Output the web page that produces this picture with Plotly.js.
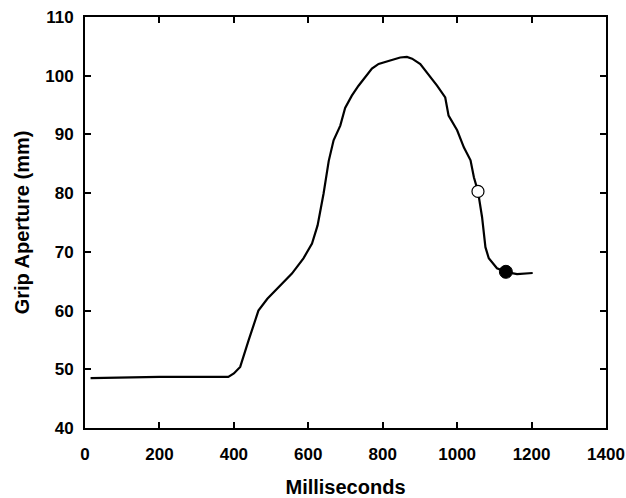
<!DOCTYPE html>
<html>
<head>
<meta charset="utf-8">
<script src="https://cdn.plot.ly/plotly-3.0.1.min.js"></script>
<style>body{margin:0;padding:0;background:#fff}#plot{width:626px;height:498px}</style>
</head>
<body>
<div id="plot"></div>
<script>
const timeMs = [15, 90, 100, 200, 300, 385, 400, 417, 440, 466, 490, 515, 556, 587, 610, 625, 641, 655, 668, 686, 699, 717, 735, 771, 789, 820, 847, 865, 879, 901, 919, 946, 968, 977, 1000, 1018, 1036, 1045, 1056, 1067, 1076, 1085, 1107, 1131, 1161, 1203];
const aperture = [48.5, 48.6, 48.5, 48.7, 48.7, 48.7, 49.3, 50.4, 55.0, 60.0, 62.0, 63.6, 66.3, 68.9, 71.4, 74.5, 79.9, 85.5, 89.0, 91.5, 94.5, 96.6, 98.3, 101.2, 102.0, 102.6, 103.1, 103.2, 102.9, 102.0, 100.6, 98.3, 96.3, 93.2, 90.7, 87.8, 85.6, 82.7, 80.3, 75.9, 70.8, 68.9, 67.2, 66.6, 66.2, 66.4];
const openMarkerX = [1056];
const openMarkerY = [80.3];
const filledMarkerX = [1131];
const filledMarkerY = [66.6];
const xTicks = [0, 200, 400, 600, 800, 1000, 1200, 1400];
const yTicks = [40, 50, 60, 70, 80, 90, 100, 110];

const tickFont = {family: 'Liberation Sans, Arial, sans-serif', size: 17, color: '#000', weight: 'bold'};
const titleFont = {family: 'Liberation Sans, Arial, sans-serif', size: 20, color: '#000', weight: 'bold'};

const traces = [
  {x: timeMs, y: aperture, mode: 'lines', line: {color: '#000', width: 2.2}, hoverinfo: 'skip'},
  {x: openMarkerX, y: openMarkerY, mode: 'markers', marker: {size: 12, color: '#fff', line: {color: '#000', width: 1.2}}},
  {x: filledMarkerX, y: filledMarkerY, mode: 'markers', marker: {size: 13, color: '#000', line: {color: '#000', width: 1}}}
];

const axisCommon = {
  showline: true, linecolor: '#000', linewidth: 2, mirror: 'ticks',
  ticks: 'inside', ticklen: 6, tickwidth: 2, tickcolor: '#000',
  showgrid: false, zeroline: false, tickfont: tickFont
};

const layout = {
  width: 626, height: 498,
  margin: {l: 85, r: 20, t: 17, b: 70},
  paper_bgcolor: '#fff', plot_bgcolor: '#fff',
  showlegend: false,
  xaxis: Object.assign({}, axisCommon, {
    range: [0, 1400], tickvals: xTicks, ticktext: xTicks.map(String),
    ticklabelstandoff: 10,
    title: {text: 'Milliseconds', font: titleFont, standoff: 18}
  }),
  yaxis: Object.assign({}, axisCommon, {
    range: [40, 110], tickvals: yTicks, ticktext: yTicks.map(String),
    ticklabelstandoff: 6,
    title: {text: 'Grip Aperture (mm)', font: titleFont, standoff: 10}
  })
};

Plotly.newPlot('plot', traces, layout, {displayModeBar: false, staticPlot: true});
</script>
</body>
</html>
